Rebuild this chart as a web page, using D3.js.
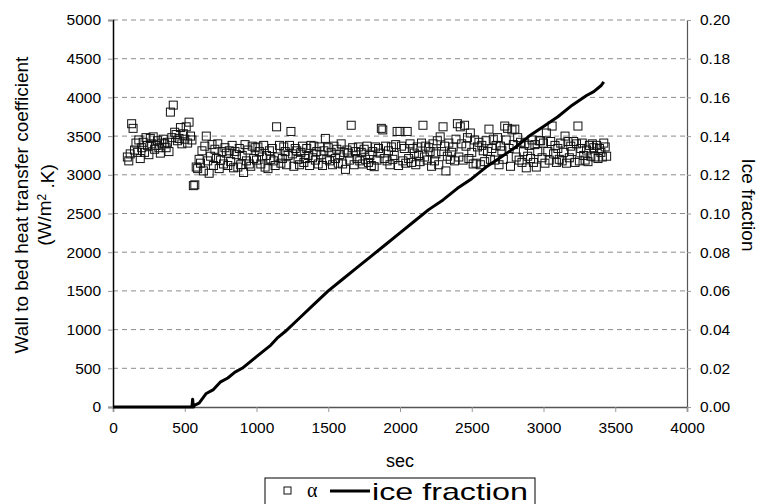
<!DOCTYPE html>
<html>
<head>
<meta charset="utf-8">
<script src="https://cdn.jsdelivr.net/npm/d3@7"></script>
<style>
body { margin: 0; background: #fff; }
text { font-family: "Liberation Sans", Arial, sans-serif; fill: #000; }
</style>
</head>
<body>
<div id="chart"></div>
<script>
// tick labels
var xTicks = [0, 500, 1000, 1500, 2000, 2500, 3000, 3500, 4000];
var yTicks = [0, 500, 1000, 1500, 2000, 2500, 3000, 3500, 4000, 4500, 5000];
var y2Ticks = [0, 0.02, 0.04, 0.06, 0.08, 0.10, 0.12, 0.14, 0.16, 0.18, 0.20];

// alpha (wall to bed heat transfer coefficient), sampled times in sec
var alphaTime = [
 100,110,120,130,140,150,160,170,180,190,
 200,210,220,230,240,250,260,270,280,290,
 300,310,320,330,340,350,360,370,380,390,
 400,410,420,430,440,450,460,470,480,490,
 500,510,520,530,540,550,560,570,580,590,
 600,610,620,630,640,650,660,670,680,690,
 700,710,720,730,740,750,760,770,780,790,
 800,810,820,830,840,850,860,870,880,890,
 900,910,920,930,940,950,960,970,980,990,
 1000,1010,1020,1030,1040,1050,1060,1070,1080,1090,
 1100,1110,1120,1130,1140,1150,1160,1170,1180,1190,
 1200,1210,1220,1230,1240,1250,1260,1270,1280,1290,
 1300,1310,1320,1330,1340,1350,1360,1370,1380,1390,
 1400,1410,1420,1430,1440,1450,1460,1470,1480,1490,
 1500,1510,1520,1530,1540,1550,1560,1570,1580,1590,
 1600,1610,1620,1630,1640,1650,1660,1670,1680,1690,
 1700,1710,1720,1730,1740,1750,1760,1770,1780,1790,
 1800,1810,1820,1830,1840,1850,1860,1870,1880,1890,
 1900,1910,1920,1930,1940,1950,1960,1970,1980,1990,
 2000,2010,2020,2030,2040,2050,2060,2070,2080,2090,
 2100,2110,2120,2130,2140,2150,2160,2170,2180,2190,
 2200,2210,2220,2230,2240,2250,2260,2270,2280,2290,
 2300,2310,2320,2330,2340,2350,2360,2370,2380,2390,
 2400,2410,2420,2430,2440,2450,2460,2470,2480,2490,
 2500,2510,2520,2530,2540,2550,2560,2570,2580,2590,
 2600,2610,2620,2630,2640,2650,2660,2670,2680,2690,
 2700,2710,2720,2730,2740,2750,2760,2770,2780,2790,
 2800,2810,2820,2830,2840,2850,2860,2870,2880,2890,
 2900,2910,2920,2930,2940,2950,2960,2970,2980,2990,
 3000,3010,3020,3030,3040,3050,3060,3070,3080,3090,
 3100,3110,3120,3130,3140,3150,3160,3170,3180,3190,
 3200,3210,3220,3230,3240,3250,3260,3270,3280,3290,
 3300,3310,3320,3330,3340,3350,3360,3370,3380,3390,
 3400,3410,3420,3430,3440
];
var alphaValue = [
 3230,3180,3270,3660,3600,3320,3410,3290,3450,3210,
 3350,3420,3290,3480,3380,3260,3470,3400,3490,3330,
 3380,3440,3350,3280,3410,3460,3400,3350,3420,3300,
 3810,3480,3900,3550,3520,3440,3470,3610,3400,3530,
 3460,3620,3410,3680,3500,3450,2860,2870,3100,3080,
 3200,3150,3310,3050,3370,3500,3180,3020,3240,3390,
 3120,3330,3210,3400,3080,3190,3300,3140,3350,3280,
 3120,3310,3170,3380,3090,3300,3260,3100,3340,3130,
 3250,3030,3390,3180,3320,3140,3110,3370,3210,3350,
 3190,3360,3300,3140,3230,3380,3100,3250,3080,3310,
 3200,3340,3180,3120,3620,3230,3380,3150,3210,3360,
 3300,3130,3250,3380,3560,3270,3110,3340,3310,3200,
 3130,3290,3370,3160,3210,3340,3250,3120,3380,3220,
 3370,3190,3300,3140,3360,3260,3120,3310,3470,3200,
 3350,3180,3290,3130,3370,3210,3330,3150,3260,3400,
 3140,3290,3070,3320,3280,3190,3640,3350,3130,3300,
 3210,3360,3180,3290,3140,3330,3200,3370,3160,3250,
 3120,3300,3105,3360,3190,3340,3280,3600,3580,3210,
 3370,3180,3310,3130,3360,3200,3250,3390,3560,3120,
 3560,3370,3180,3340,3150,3560,3210,3400,3160,3340,
 3280,3130,3360,3250,3170,3410,3640,3230,3370,3190,
 3350,3300,3110,3400,3180,3270,3440,3130,3490,3300,
 3620,3370,3050,3240,3410,3200,3290,3360,3180,3460,
 3660,3230,3620,3400,3190,3640,3370,3480,3210,3540,
 3290,3140,3450,3150,3360,3420,3130,3380,3310,3170,
 3440,3300,3590,3200,3340,3460,3190,3380,3480,3130,
 3370,3310,3200,3630,3450,3600,3340,3110,3580,3390,
 3590,3230,3480,3190,3420,3160,3300,3400,3090,3240,
 3380,3210,3450,3160,3390,3100,3300,3440,3440,3220,
 3410,3150,3540,3300,3190,3430,3630,3270,3380,3160,
 3340,3200,3410,3180,3290,3500,3150,3430,3220,3370,
 3300,3430,3160,3400,3630,3180,3340,3410,3250,3190,
 3320,3170,3380,3240,3400,3350,3230,3380,3210,3340,
 3290,3230,3410,3360,3240
];

// ice fraction line
var iceTime = [0, 500, 550, 555, 560, 570, 600, 650, 700, 750, 800, 850, 900, 1000, 1100, 1150, 1200, 1300, 1400,
  1500, 1600, 1700, 1800, 1900, 2000, 2100, 2200, 2300, 2400, 2500, 2600, 2700, 2800,
  2900, 3000, 3100, 3200, 3300, 3350, 3400, 3420];
var iceValue = [0, 0, 0, 0.004, 0, 0.001, 0.002, 0.007, 0.009, 0.013, 0.015, 0.018, 0.020, 0.026, 0.032, 0.036, 0.039, 0.046, 0.053,
  0.060, 0.066, 0.072, 0.078, 0.084, 0.090, 0.096, 0.102, 0.107, 0.113, 0.118, 0.124, 0.129, 0.134,
  0.140, 0.145, 0.150, 0.156, 0.161, 0.163, 0.166, 0.168];

var W = 758, H = 504;
var margin = {top: 20, right: 71, bottom: 97, left: 113};
var width = W - margin.left - margin.right;
var height = H - margin.top - margin.bottom;

var svg = d3.select("#chart")
  .append("svg")
  .attr("width", W)
  .attr("height", H);

var g = svg.append("g")
  .attr("transform", "translate(" + margin.left + "," + margin.top + ")");

var x = d3.scaleLinear().domain([0, 4000]).range([0, width]);
var y = d3.scaleLinear().domain([0, 5000]).range([height, 0]);
var y2 = d3.scaleLinear().domain([0, 0.2]).range([height, 0]);

// dashed grid
g.selectAll(".grid")
  .data(yTicks.filter(function (d) { return d > 0; }))
  .enter()
  .append("line")
  .attr("x1", 0)
  .attr("x2", width)
  .attr("y1", function (d) { return y(d); })
  .attr("y2", function (d) { return y(d); })
  .style("stroke", "#8c8c8c")
  .style("stroke-width", 1)
  .style("stroke-dasharray", "5,4");

// axes
var fs = "15.5px";
var xAxis = g.append("g")
  .attr("transform", "translate(0," + height + ")")
  .call(d3.axisBottom(x).tickValues(xTicks).tickSize(5).tickPadding(10).tickFormat(d3.format("d")));
xAxis.select(".domain").style("stroke", "#555").style("stroke-width", 1.5);
xAxis.selectAll(".tick line").style("stroke", "#999");
xAxis.selectAll("text").style("font-size", fs).style("font-family", "Liberation Sans, Arial, sans-serif");

var yAxis = g.append("g")
  .call(d3.axisLeft(y).tickValues(yTicks).tickSize(5).tickPadding(7).tickFormat(d3.format("d")));
yAxis.select(".domain").style("stroke", "#000").style("stroke-width", 1.5);
yAxis.selectAll(".tick line").style("stroke", "#999");
yAxis.selectAll("text").style("font-size", fs).style("font-family", "Liberation Sans, Arial, sans-serif");

var y2Axis = g.append("g")
  .attr("transform", "translate(" + width + ",0)")
  .call(d3.axisRight(y2).tickValues(y2Ticks).tickSize(4).tickPadding(9).tickFormat(d3.format(".2f")));
y2Axis.select(".domain").style("stroke", "#555").style("stroke-width", 1.2);
y2Axis.selectAll(".tick line").style("stroke", "#999");
y2Axis.selectAll("text").style("font-size", fs).style("font-family", "Liberation Sans, Arial, sans-serif");

// alpha squares
var alphaData = alphaTime.map(function (t, i) { return {t: t, v: alphaValue[i]}; });
var sq = 8;
g.append("g")
  .selectAll("rect")
  .data(alphaData)
  .enter()
  .append("rect")
  .attr("x", function (d) { return x(d.t) - sq / 2; })
  .attr("y", function (d) { return y(d.v) - sq / 2; })
  .attr("width", sq)
  .attr("height", sq)
  .style("fill", "none")
  .style("stroke", "#111")
  .style("stroke-width", 1);

// ice fraction line
var iceData = iceTime.map(function (t, i) { return {t: t, v: iceValue[i]}; });
var line = d3.line()
  .x(function (d) { return x(d.t); })
  .y(function (d) { return y2(d.v); });
g.append("path")
  .datum(iceData)
  .attr("d", line)
  .style("fill", "none")
  .style("stroke", "#000")
  .style("stroke-width", 3)
  .style("stroke-linejoin", "round");

// axis titles
var midY = 205;
svg.append("text")
  .attr("transform", "translate(28," + midY + ")rotate(-90)")
  .style("text-anchor", "middle")
  .style("font-size", "19px")
  .text("Wall to bed heat transfer coefficient");
var lt2 = svg.append("text")
  .attr("transform", "translate(51," + midY + ")rotate(-90)")
  .style("text-anchor", "middle")
  .style("font-size", "19px");
lt2.append("tspan").text("(W/m");
lt2.append("tspan").attr("dy", "-0.45em").style("font-size", "12px").text("2");
lt2.append("tspan").attr("dy", "0.45em").text(" .K)");

svg.append("text")
  .attr("transform", "translate(742," + midY + ")rotate(90)")
  .style("text-anchor", "middle")
  .style("font-size", "19px")
  .text("Ice fraction");

svg.append("text")
  .attr("x", margin.left + width / 2)
  .attr("y", 467)
  .style("text-anchor", "middle")
  .style("font-size", "18px")
  .text("sec");

// legend
var lg = svg.append("g").attr("transform", "translate(265,478)");
lg.append("rect")
  .attr("width", 270).attr("height", 30)
  .style("fill", "#fff").style("stroke", "#000").style("stroke-width", 1);
lg.append("rect")
  .attr("x", 19).attr("y", 9).attr("width", 7).attr("height", 7)
  .style("fill", "none").style("stroke", "#111");
lg.append("text")
  .attr("x", 42).attr("y", 19)
  .style("font-size", "20px")
  .style("font-family", "Liberation Serif, serif")
  .text("\u03b1");
lg.append("line")
  .attr("x1", 65).attr("x2", 105).attr("y1", 13).attr("y2", 13)
  .style("stroke", "#000").style("stroke-width", 3);
lg.append("text")
  .attr("x", 107).attr("y", 22)
  .style("font-size", "24px")
  .attr("textLength", 156)
  .attr("lengthAdjust", "spacingAndGlyphs")
  .text("ice fraction");
</script>
</body>
</html>
